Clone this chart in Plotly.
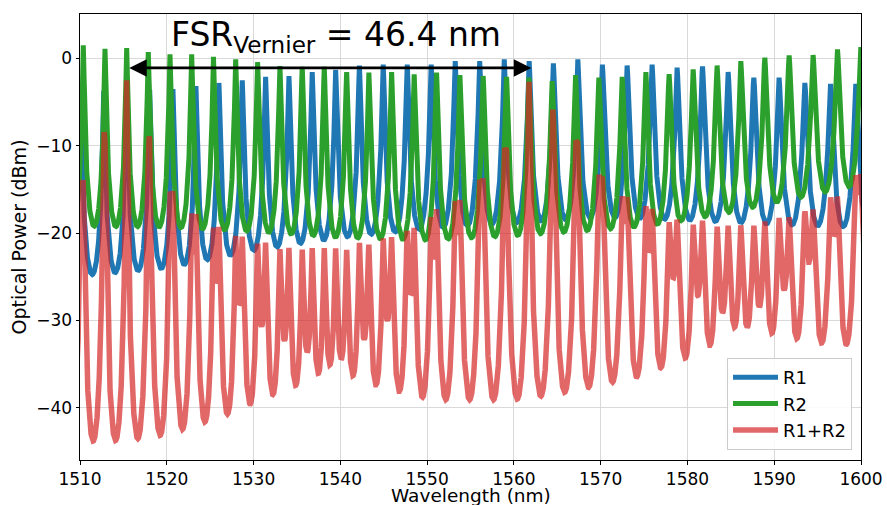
import numpy as np
import plotly.graph_objects as go

# ---- data ----
# R1 (blue) resonance peaks: wavelength (nm) and peak power (dBm)
r1_peak_wl = [1507.44, 1510.09, 1512.73, 1515.38, 1518.03, 1520.71, 1523.36, 1526.01,
              1528.70, 1531.39, 1534.08, 1536.76, 1539.46, 1542.20, 1544.94, 1547.71,
              1550.47, 1553.24, 1556.06, 1558.89, 1561.76, 1564.55, 1567.37, 1570.20,
              1573.05, 1575.93, 1578.81, 1581.74, 1584.69, 1587.65, 1590.56, 1593.53,
              1596.49, 1599.40, 1602.36]
r1_peak_db = [-3.9, -3.8, -3.7, -3.7, -3.6, -3.5, -3.15, -2.8,
              -2.5, -2.1, -2.0, -1.55, -1.3, -0.8, -0.7, -0.7,
              -0.7, -0.3, -0.3, -0.1, -0.3, -0.55, -0.1, -0.7,
              -0.8, -0.7, -1.05, -0.9, -1.55, -2.2, -2.2, -2.8,
              -2.9, -2.9, -3.0]
# R1 off-resonance (trough) level
r1_trough_wl = [1508, 1511, 1520, 1530, 1540, 1550, 1560, 1570, 1580, 1590, 1602]
r1_trough_db = [-24.9, -24.8, -24.0, -22.0, -20.5, -19.5, -18.8, -18.2, -18.5, -19.0, -19.4]

# R2 (green) resonance peaks
r2_peak_wl = [1507.88, 1510.38, 1512.88, 1515.38, 1517.87, 1520.37, 1522.87, 1525.38,
              1527.94, 1530.47, 1533.04, 1535.61, 1538.15, 1540.73, 1543.29, 1545.91,
              1548.51, 1551.09, 1553.78, 1556.46, 1559.16, 1561.73, 1564.41, 1567.11,
              1569.79, 1572.48, 1575.21, 1577.89, 1580.66, 1583.42, 1586.15, 1588.92,
              1591.72, 1594.48, 1597.29, 1599.98, 1602.80]
r2_peak_db = [1.6, 1.5, 1.1, 1.2, 0.75, 0.47, 0.47, 0.2,
              -0.1, -0.4, -0.86, -0.94, -0.94, -1.55, -1.6, -1.55,
              -1.8, -1.6, -1.9, -2.0, -2.1, -2.2, -2.6, -1.9,
              -2.2, -2.1, -1.55, -1.8, -1.25, -0.8, -0.3, 0.1,
              0.36, 0.4, 1.05, 1.3, 1.4]
r2_trough_wl = [1508, 1510, 1520, 1530, 1540, 1550, 1560, 1570, 1575, 1580, 1585, 1590, 1595, 1599, 1603]
r2_trough_db = [-19.2, -19.2, -19.3, -19.8, -20.5, -20.8, -20.3, -19.6, -19.2, -18.5, -17.6, -16.5, -15.5, -14.6, -14.0]

# annotation values
fsr_vernier_label = "FSR<sub>Vernier</sub> = 46.4 nm"
arrow_start_wl, arrow_end_wl, arrow_level = 1515.5, 1562.0, -1.08

x_ticks = [1510, 1520, 1530, 1540, 1550, 1560, 1570, 1580, 1590, 1600]
y_ticks = [0, -10, -20, -30, -40]
x_title = "Wavelength (nm)"
y_title = "Optical Power (dBm)"


def ring_response(wl, pk_wl, pk_db, tr_wl, tr_db):
    pk_wl = np.asarray(pk_wl, float)
    pk_db = np.asarray(pk_db, float)
    idx = np.clip(np.searchsorted(pk_wl, wl) - 1, 0, len(pk_wl) - 2)
    p0, p1 = pk_wl[idx], pk_wl[idx + 1]
    f = (wl - p0) / (p1 - p0)
    peak = pk_db[idx] * (1 - f) + pk_db[idx + 1] * f
    base = np.interp(wl, tr_wl, tr_db)
    er = np.maximum(peak - base, 1.0)
    F = 10 ** (er / 10) - 1
    return peak - 10 * np.log10(1 + F * np.sin(np.pi * f) ** 2)


wl = np.arange(1509.0, 1601.0, 0.005)
r1 = ring_response(wl, r1_peak_wl, r1_peak_db, r1_trough_wl, r1_trough_db)
r2 = ring_response(wl, r2_peak_wl, r2_peak_db, r2_trough_wl, r2_trough_db)
r12 = r1 + r2

FONT = "DejaVu Sans"
fig = go.Figure()
fig.add_trace(go.Scatter(x=wl, y=r1, mode="lines", name="R1",
                         line=dict(color="#1f77b4", width=5)))
fig.add_trace(go.Scatter(x=wl, y=r2, mode="lines", name="R2",
                         line=dict(color="#2ca02c", width=5)))
fig.add_trace(go.Scatter(x=wl, y=r12, mode="lines", name="R1+R2",
                         line=dict(color="#d62728", width=5.5), opacity=0.7))

fig.add_annotation(x=1539.5, y=2.5, xref="x", yref="y", text=fsr_vernier_label,
                   showarrow=False, font=dict(family=FONT, size=33, color="black"))
fig.add_annotation(x=arrow_end_wl, y=arrow_level, ax=arrow_start_wl, ay=arrow_level,
                   xref="x", yref="y", axref="x", ayref="y", text="",
                   showarrow=True, arrowhead=2, startarrowhead=2, arrowside="end+start",
                   arrowwidth=2.8, arrowsize=1.25, startarrowsize=1.25, arrowcolor="black")
# x-axis title placed below the tick labels
fig.add_annotation(x=0.5, y=-0.0785, xref="paper", yref="paper", text=x_title,
                   showarrow=False, xanchor="center", yanchor="middle",
                   font=dict(family=FONT, size=18.5, color="black"))

axis_common = dict(showline=True, linecolor="black", linewidth=1, mirror=True,
                   ticks="outside", ticklen=3.5, tickcolor="black",
                   showgrid=True, gridcolor="#d9d9d9", gridwidth=1, zeroline=False,
                   tickfont=dict(family=FONT, size=17, color="black"))
fig.update_xaxes(range=[1510, 1600], tickvals=x_ticks, ticktext=[str(v) for v in x_ticks],
                 **axis_common)
fig.update_yaxes(range=[-46.0, 5.1], tickvals=y_ticks,
                 ticktext=[str(v).replace("-", "\u2212") for v in y_ticks],
                 title=dict(text=y_title, font=dict(family=FONT, size=19, color="black"),
                            standoff=4),
                 **axis_common)

fig.update_layout(
    width=887, height=505,
    margin=dict(l=80, r=26, t=14, b=45, autoexpand=False),
    paper_bgcolor="white", plot_bgcolor="white",
    font=dict(family=FONT, color="black"),
    legend=dict(x=0.9885, y=0.0224, xanchor="right", yanchor="bottom",
                bgcolor="rgba(255,255,255,0.85)", bordercolor="#cccccc", borderwidth=1,
                font=dict(family=FONT, size=18, color="black"), itemwidth=45,
                tracegroupgap=0),
    showlegend=True,
)

fig.write_html("out.html", config={"displayModeBar": False},
               post_script="document.body.style.margin='0px';document.body.style.overflow='hidden';")
